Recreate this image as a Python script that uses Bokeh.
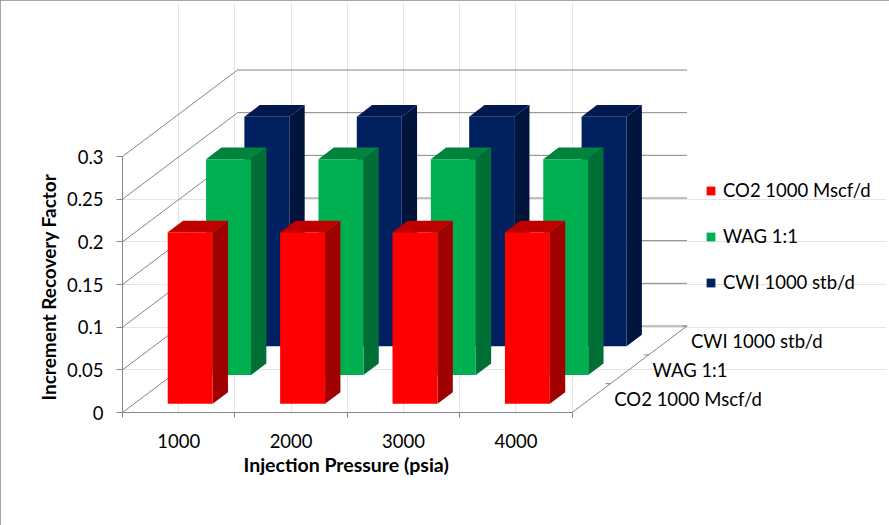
from bokeh.plotting import figure
from bokeh.models import LinearAxis, FixedTicker, Range1d, Legend, LegendItem, Title
from bokeh.core.properties import value
from bokeh.embed import file_html
from bokeh.resources import INLINE

# ---- data -------------------------------------------------------------
pressures = ["1000", "2000", "3000", "4000"]
series_names = ["CO2 1000 Mscf/d", "WAG 1:1", "CWI 1000 stb/d"]
co2_rf = [0.201, 0.201, 0.201, 0.201]
wag_rf = [0.253, 0.253, 0.253, 0.253]
cwi_rf = [0.269, 0.269, 0.269, 0.269]
y_ticks = [0, 0.05, 0.1, 0.15, 0.2, 0.25, 0.3]
y_tick_labels = ["0", "0.05", "0.1", "0.15", "0.2", "0.25", "0.3"]
x_title = "Injection Pressure (psia)"
y_title = "Increment Recovery Factor"

series_values = [co2_rf, wag_rf, cwi_rf]

# ---- styling ----------------------------------------------------------
FONT = "Lato"
FONT_SIZE = "18.5px"
GRID = "#868686"
face_colors = [  # (front, top, side)
    ("#ff0000", "#c00000", "#a00000"),
    ("#00b050", "#00843c", "#006f35"),
    ("#002060", "#001a50", "#00143c"),
]

# ---- layout / oblique projection -------------------------------------
W, H = 889, 525
B_LEFT, B_RIGHT, B_TOP, B_BOTTOM = 122, 3, 2, 113
frame_w = W - B_LEFT - B_RIGHT
frame_h = H - B_TOP - B_BOTTOM
CAT_PX = 112.4     # pixels per category along the front floor
VAL_PX = 853.3     # pixels per unit of recovery factor
DX = 115.0 / CAT_PX   # depth of the box, in category units
DY = 86.5 / VAL_PX    # depth of the box, in value units
n_cat = len(pressures)
n_ser = len(series_names)
bar_w = 0.4                      # gap width 150 %
bar_d = (1.0 / n_ser) / 2.5      # gap depth 150 %

p = figure(width=W, height=H, output_backend="svg", toolbar_location=None,
           x_range=Range1d(0, frame_w / CAT_PX), y_range=Range1d(0, frame_h / VAL_PX),
           x_axis_location=None, y_axis_location=None,
           min_border_left=B_LEFT, min_border_right=B_RIGHT,
           min_border_top=B_TOP, min_border_bottom=B_BOTTOM)
p.outline_line_color = None
p.background_fill_color = "white"
p.border_fill_color = "white"
p.styles = {"outline": "2px solid #898989", "outline-offset": "-2px"}

# ---- walls: side wall and back wall gridlines --------------------------
p.segment(x0=[0] * len(y_ticks), y0=y_ticks,
          x1=[DX] * len(y_ticks), y1=[v + DY for v in y_ticks],
          line_color=GRID, line_width=1)
p.segment(x0=[DX] * len(y_ticks), y0=[v + DY for v in y_ticks],
          x1=[n_cat + DX] * len(y_ticks), y1=[v + DY for v in y_ticks],
          line_color=GRID, line_width=1)

# depth axis along the right edge of the floor
p.segment(x0=[n_cat], y0=[0], x1=[n_cat + DX], y1=[DY], line_color=GRID, line_width=1)
depth_ticks = [k / n_ser for k in range(1, n_ser + 1)]
p.segment(x0=[n_cat + d * DX for d in depth_ticks], y0=[d * DY for d in depth_ticks],
          x1=[n_cat + d * DX - 5 / CAT_PX for d in depth_ticks], y1=[d * DY for d in depth_ticks],
          line_color=GRID, line_width=1)
depth_mid = [(k + 0.5) / n_ser for k in range(n_ser)]
p.text(x=[n_cat + d * DX for d in depth_mid], y=[d * DY for d in depth_mid],
       text=series_names, x_offset=23, y_offset=1,
       text_font=value(FONT), text_font_size=FONT_SIZE, text_color="black",
       text_align="left", text_baseline="middle")

# ---- bars, drawn back row first ---------------------------------------
front_renderers = {}
for s in reversed(range(n_ser)):
    d0 = (s + 0.5) / n_ser - bar_d / 2
    d1 = d0 + bar_d
    fronts, tops, sides = ([], []), ([], []), ([], [])
    for i, v in enumerate(series_values[s]):
        x0 = i + 0.5 - bar_w / 2
        x1 = i + 0.5 + bar_w / 2
        fronts[0].append([x0 + d0 * DX, x1 + d0 * DX, x1 + d0 * DX, x0 + d0 * DX])
        fronts[1].append([d0 * DY, d0 * DY, v + d0 * DY, v + d0 * DY])
        tops[0].append([x0 + d0 * DX, x1 + d0 * DX, x1 + d1 * DX, x0 + d1 * DX])
        tops[1].append([v + d0 * DY, v + d0 * DY, v + d1 * DY, v + d1 * DY])
        sides[0].append([x1 + d0 * DX, x1 + d1 * DX, x1 + d1 * DX, x1 + d0 * DX])
        sides[1].append([d0 * DY, d1 * DY, v + d1 * DY, v + d0 * DY])
    front_c, top_c, side_c = face_colors[s]
    p.patches(xs=sides[0], ys=sides[1], fill_color=side_c, line_color=None)
    p.patches(xs=tops[0], ys=tops[1], fill_color=top_c, line_color=None)
    front_renderers[s] = p.patches(xs=fronts[0], ys=fronts[1],
                                   fill_color=front_c, line_color=None)

# ---- axes -------------------------------------------------------------
yaxis = LinearAxis(ticker=FixedTicker(ticks=y_ticks, minor_ticks=[]), bounds=(0, 0.3),
                   major_label_overrides={t: l for t, l in zip(y_ticks, y_tick_labels)})
yaxis.axis_line_color = GRID
yaxis.major_tick_line_color = GRID
yaxis.major_tick_out = 6
yaxis.major_tick_in = 0
yaxis.major_label_standoff = 13
yaxis.major_label_text_font = FONT
yaxis.major_label_text_font_size = FONT_SIZE
yaxis.major_label_text_color = "black"
p.add_layout(yaxis, "left")

cat_centers = [i + 0.5 for i in range(n_cat)]
xaxis = LinearAxis(ticker=FixedTicker(ticks=cat_centers, minor_ticks=list(range(n_cat + 1))),
                   bounds=(0, n_cat),
                   major_label_overrides={c: l for c, l in zip(cat_centers, pressures)})
xaxis.axis_line_color = GRID
xaxis.major_tick_out = 0
xaxis.major_tick_in = 0
xaxis.minor_tick_line_color = GRID
xaxis.minor_tick_out = 5
xaxis.minor_tick_in = 0
xaxis.major_label_standoff = 16
xaxis.major_label_text_font = FONT
xaxis.major_label_text_font_size = FONT_SIZE
xaxis.major_label_text_color = "black"
p.add_layout(xaxis, "below")

# axis titles, shifted along the frame side so that they sit under the
# front floor edge and beside the 0-0.3 value span
p.add_layout(Title(text=x_title, align="left", offset=121, standoff=0,
                   text_font=FONT, text_font_size="19.5px", text_font_style="bold",
                   text_color="black"), "below")
p.add_layout(Title(text=y_title, align="left", offset=12, standoff=8,
                   text_font=FONT, text_font_size="19px", text_font_style="bold",
                   text_color="black"), "left")

# ---- legend -----------------------------------------------------------
legend = Legend(items=[LegendItem(label=series_names[s], renderers=[front_renderers[s]])
                       for s in range(n_ser)],
                location=(583, 119), orientation="vertical",
                glyph_width=11, glyph_height=11, label_standoff=7, spacing=24,
                padding=0, margin=0, border_line_color=None, background_fill_alpha=0,
                label_text_font=FONT, label_text_font_size=FONT_SIZE,
                label_text_color="black")
p.add_layout(legend, "center")

open("out.html", "w").write(file_html(p, INLINE))
